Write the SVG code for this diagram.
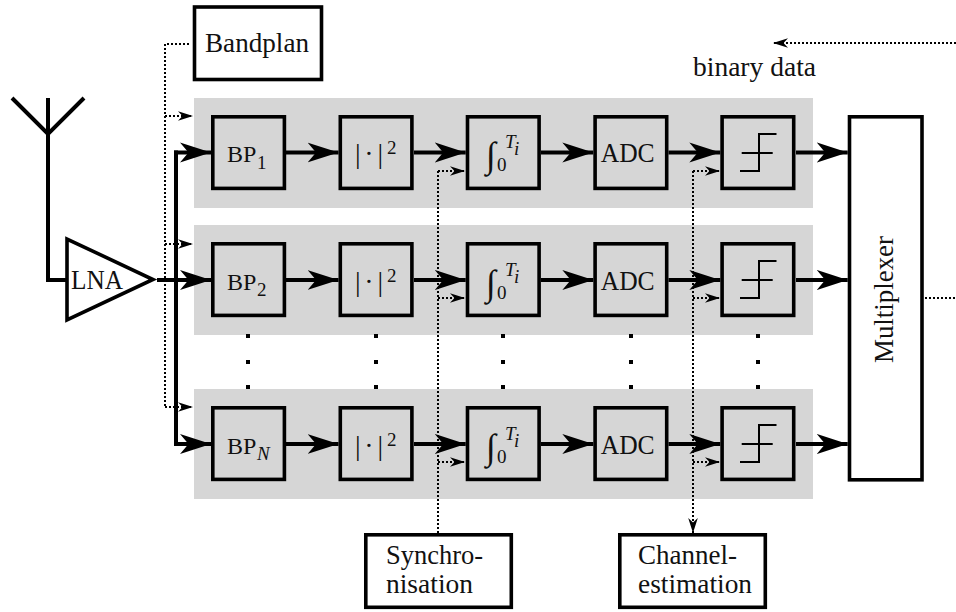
<svg xmlns="http://www.w3.org/2000/svg" width="956" height="612" viewBox="0 0 956 612">
<defs>
<marker id="big" markerUnits="userSpaceOnUse" markerWidth="32" markerHeight="22" refX="31" refY="11" orient="auto"><path d="M31 11 L0 1 L8.5 11 L0 21 Z" fill="#000"/></marker>
<marker id="small" markerUnits="userSpaceOnUse" markerWidth="16" markerHeight="12" refX="15" refY="6" orient="auto"><path d="M15 6 L0 1.2 L4.5 6 L0 10.8 Z" fill="#000"/></marker>
</defs>
<style>
.band{fill:#d6d6d6}
.box{fill:#d6d6d6;stroke:#000;stroke-width:3.6}
.wbox{fill:#fff;stroke:#000;stroke-width:3.6}
.t{font-family:"Liberation Serif",serif;font-size:28px;fill:#111}
.bp{font-family:"Liberation Serif",serif;font-size:24px;fill:#111}
.sub{font-family:"Liberation Serif",serif;font-size:19px;fill:#111}
.int{font-family:"Liberation Serif",serif;font-size:36px;fill:#111}
.it{font-style:italic}
.th{fill:none;stroke:#000;stroke-width:4}
.ar{marker-end:url(#big)}
.dot{fill:none;stroke:#000;stroke-width:2;stroke-dasharray:2 2}
.da{marker-end:url(#small)}
.step{fill:none;stroke:#000;stroke-width:2}
</style>
<rect width="956" height="612" fill="#fff"/>
<g id="bands">
<rect class="band" x="194" y="98" width="619" height="110"/>
<rect class="band" x="194" y="225" width="619" height="110"/>
<rect class="band" x="194" y="389" width="619" height="110"/>
</g>
<g id="connectors">
<path class="th" d="M12 98 L48 134 L84 98 M48 98 V280 H66"/>
<path class="th" d="M157 280 H176 M176 446 V150.5"/>
<path class="th ar" d="M174 152.5 H211"/><path class="th ar" d="M176 280 H211"/><path class="th ar" d="M174 444 H211"/>
<path class="th ar" d="M286 152.5 H338.5"/><path class="th ar" d="M414 152.5 H465.7"/><path class="th ar" d="M541 152.5 H593.3"/><path class="th ar" d="M668.5 152.5 H720.3"/><path class="th ar" d="M796 152.5 H847.7"/>
<path class="th ar" d="M286 280 H338.5"/><path class="th ar" d="M414 280 H465.7"/><path class="th ar" d="M541 280 H593.3"/><path class="th ar" d="M668.5 280 H720.3"/><path class="th ar" d="M796 280 H847.7"/>
<path class="th ar" d="M286 444 H338.5"/><path class="th ar" d="M414 444 H465.7"/><path class="th ar" d="M541 444 H593.3"/><path class="th ar" d="M668.5 444 H720.3"/><path class="th ar" d="M796 444 H847.7"/>
<path class="dot" d="M189 44 H165 V407"/>
<path class="dot da" d="M165 116 H193"/><path class="dot da" d="M165 244 H193"/><path class="dot da" d="M165 407 H193"/>
<path class="dot" d="M438 533 V171"/>
<path class="dot da" d="M438 171 H465"/><path class="dot da" d="M438 298 H465"/><path class="dot da" d="M438 462 H465"/>
<path class="dot da" d="M693 171 V533"/>
<path class="dot da" d="M693 171 H720"/><path class="dot da" d="M693 298 H720"/><path class="dot da" d="M693 462 H720"/>
<path class="dot" d="M925 298 H956"/>
<path class="dot da" d="M956 43 H773"/>
</g>
<g id="dots" fill="#000">
<rect x="246" y="334" width="4" height="4"/><rect x="246" y="360" width="4" height="4"/><rect x="246" y="385" width="4" height="4"/>
<rect x="374" y="334" width="4" height="4"/><rect x="374" y="360" width="4" height="4"/><rect x="374" y="385" width="4" height="4"/>
<rect x="501" y="334" width="4" height="4"/><rect x="501" y="360" width="4" height="4"/><rect x="501" y="385" width="4" height="4"/>
<rect x="629" y="334" width="4" height="4"/><rect x="629" y="360" width="4" height="4"/><rect x="629" y="385" width="4" height="4"/>
<rect x="756" y="334" width="4" height="4"/><rect x="756" y="360" width="4" height="4"/><rect x="756" y="385" width="4" height="4"/>
</g>
<g id="lna">
<path d="M67 239 V320 L153 279.5 Z" fill="none" stroke="#000" stroke-width="3.6"/>
<text class="t" x="71" y="289" textLength="52" lengthAdjust="spacingAndGlyphs">LNA</text>
</g>
<g id="bandplan"><rect class="wbox" x="194.5" y="7" width="127" height="72.5"/><text class="t" x="205" y="51.7" textLength="104" lengthAdjust="spacingAndGlyphs">Bandplan</text></g>
<text id="binary-data" class="t" x="693" y="76" textLength="123" lengthAdjust="spacingAndGlyphs">binary data</text>
<g id="bp1"><rect class="box" x="212.8" y="116.8" width="71.6" height="71.6"/><text class="bp" x="227" y="162">BP</text><text class="sub" x="257" y="168.5">1</text></g>
<g id="bp2"><rect class="box" x="212.8" y="243.8" width="71.6" height="71.6"/><text class="bp" x="227" y="289.5">BP</text><text class="sub" x="257" y="296">2</text></g>
<g id="bpn"><rect class="box" x="212.8" y="407.8" width="71.6" height="71.6"/><text class="bp" x="227" y="453.5">BP</text><text class="sub it" x="257" y="460">N</text></g>
<g id="abs1"><rect class="box" x="340.3" y="116.8" width="71.6" height="71.6"/><text class="t" x="355" y="163" textLength="28">| · |</text><text class="sub" x="387" y="154">2</text></g>
<g id="abs2"><rect class="box" x="340.3" y="243.8" width="71.6" height="71.6"/><text class="t" x="355" y="290.5" textLength="28">| · |</text><text class="sub" x="387" y="281.5">2</text></g>
<g id="absn"><rect class="box" x="340.3" y="407.8" width="71.6" height="71.6"/><text class="t" x="355" y="454.5" textLength="28">| · |</text><text class="sub" x="387" y="445.5">2</text></g>
<g id="int1"><rect class="box" x="467.5" y="116.8" width="71.6" height="71.6"/><text class="int" x="486" y="167">∫</text><text class="sub" x="497" y="171">0</text><text class="sub it" x="505" y="148">T</text><text class="sub it" x="514" y="155">i</text></g>
<g id="int2"><rect class="box" x="467.5" y="243.8" width="71.6" height="71.6"/><text class="int" x="486" y="294.5">∫</text><text class="sub" x="497" y="298.5">0</text><text class="sub it" x="505" y="275.5">T</text><text class="sub it" x="514" y="282.5">i</text></g>
<g id="intn"><rect class="box" x="467.5" y="407.8" width="71.6" height="71.6"/><text class="int" x="486" y="458.5">∫</text><text class="sub" x="497" y="462.5">0</text><text class="sub it" x="505" y="439.5">T</text><text class="sub it" x="514" y="446.5">i</text></g>
<g id="adc1"><rect class="box" x="595.1" y="116.8" width="71.6" height="71.6"/><text class="t" x="600.7" y="162" textLength="54" lengthAdjust="spacingAndGlyphs">ADC</text></g>
<g id="adc2"><rect class="box" x="595.1" y="243.8" width="71.6" height="71.6"/><text class="t" x="600.7" y="289.5" textLength="54" lengthAdjust="spacingAndGlyphs">ADC</text></g>
<g id="adcn"><rect class="box" x="595.1" y="407.8" width="71.6" height="71.6"/><text class="t" x="600.7" y="453.5" textLength="54" lengthAdjust="spacingAndGlyphs">ADC</text></g>
<g id="lim1"><rect class="box" x="722.1" y="116.8" width="71.6" height="71.6"/><path class="step" d="M741.7 153 H772.7 M740 171 H759 V134 H776.5"/></g>
<g id="lim2"><rect class="box" x="722.1" y="243.8" width="71.6" height="71.6"/><path class="step" d="M741.7 280 H772.7 M740 298 H759 V261 H776.5"/></g>
<g id="limn"><rect class="box" x="722.1" y="407.8" width="71.6" height="71.6"/><path class="step" d="M741.7 444 H772.7 M740 462 H759 V425 H776.5"/></g>
<g id="multiplexer"><rect class="wbox" x="849.5" y="116.8" width="72.5" height="363"/><text class="t" transform="translate(893 363) rotate(-90)" textLength="127" lengthAdjust="spacingAndGlyphs">Multiplexer</text></g>
<g id="sync"><rect class="wbox" x="365.8" y="534.8" width="145.5" height="72.5"/><text class="t" x="386" y="564" textLength="97" lengthAdjust="spacingAndGlyphs">Synchro-</text><text class="t" x="386" y="593" textLength="87" lengthAdjust="spacingAndGlyphs">nisation</text></g>
<g id="channel"><rect class="wbox" x="619.8" y="534.8" width="145.5" height="72.5"/><text class="t" x="638" y="564" textLength="99" lengthAdjust="spacingAndGlyphs">Channel-</text><text class="t" x="638" y="593" textLength="114" lengthAdjust="spacingAndGlyphs">estimation</text></g>
</svg>
